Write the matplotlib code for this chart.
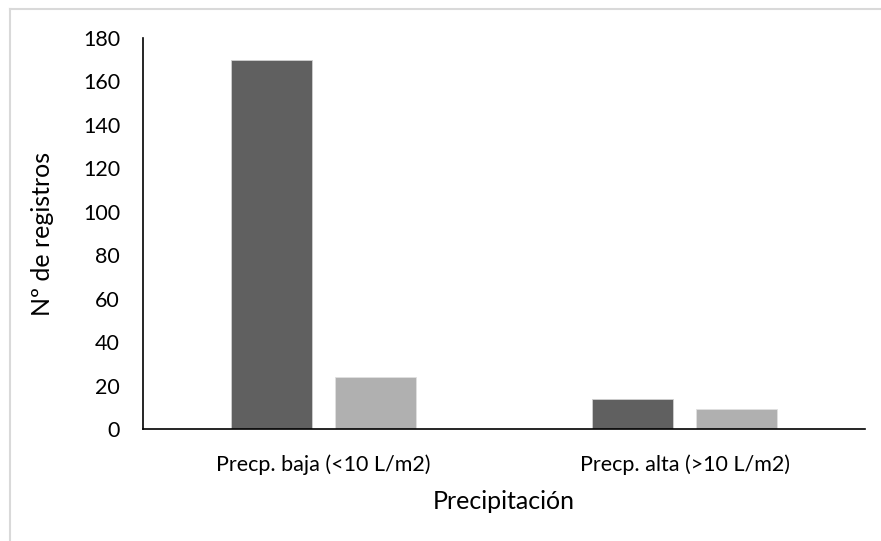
import matplotlib.pyplot as plt
import numpy as np
from matplotlib.lines import Line2D

plt.rcParams['font.family'] = ['Lato', 'DejaVu Sans']

# Data
categories = ['Precp. baja (<10 L/m2)', 'Precp. alta (>10 L/m2)']
serie_oscura = [170, 14]
serie_clara = [24, 9]
y_ticks = [0, 20, 40, 60, 80, 100, 120, 140, 160, 180]

fig = plt.figure(figsize=(8.81, 5.41), dpi=100)
ax = fig.add_axes([143 / 881, 1 - 429 / 541, (865 - 143) / 881, (429 - 38) / 541])

x = np.arange(len(categories))
width = 0.224
ax.bar(x - 0.143, serie_oscura, width, color='#606060', edgecolor='#d0d0d0', linewidth=0.6)
ax.bar(x + 0.143, serie_clara, width, color='#b0b0b0', edgecolor='#e0e0e0', linewidth=0.6)

ax.set_xlim(-0.5, 1.5)
ax.set_ylim(0, 180)
ax.set_yticks(y_ticks)
ax.set_xticks(x)
ax.set_xticklabels(categories)
ax.tick_params(axis='both', length=0, labelsize=15.5, colors='black')
ax.tick_params(axis='y', pad=16.5)
ax.tick_params(axis='x', pad=18)

for side in ['top', 'right']:
    ax.spines[side].set_visible(False)
for side in ['left', 'bottom']:
    ax.spines[side].set_color('black')
    ax.spines[side].set_linewidth(1.2)

ax.set_ylabel('Nº de registros', fontsize=18, labelpad=21)
ax.set_xlabel('Precipitación', fontsize=18, labelpad=11)

# Light gray border around the chart area
fig.add_artist(Line2D([10 / 881, 1], [1 - 8.5 / 541, 1 - 8.5 / 541], transform=fig.transFigure,
                      color='#d9d9d9', linewidth=1.5))
fig.add_artist(Line2D([10 / 881, 10 / 881], [0, 1 - 8.5 / 541], transform=fig.transFigure,
                      color='#d9d9d9', linewidth=1.5))

fig.savefig('out.png', dpi=100, facecolor='white')
